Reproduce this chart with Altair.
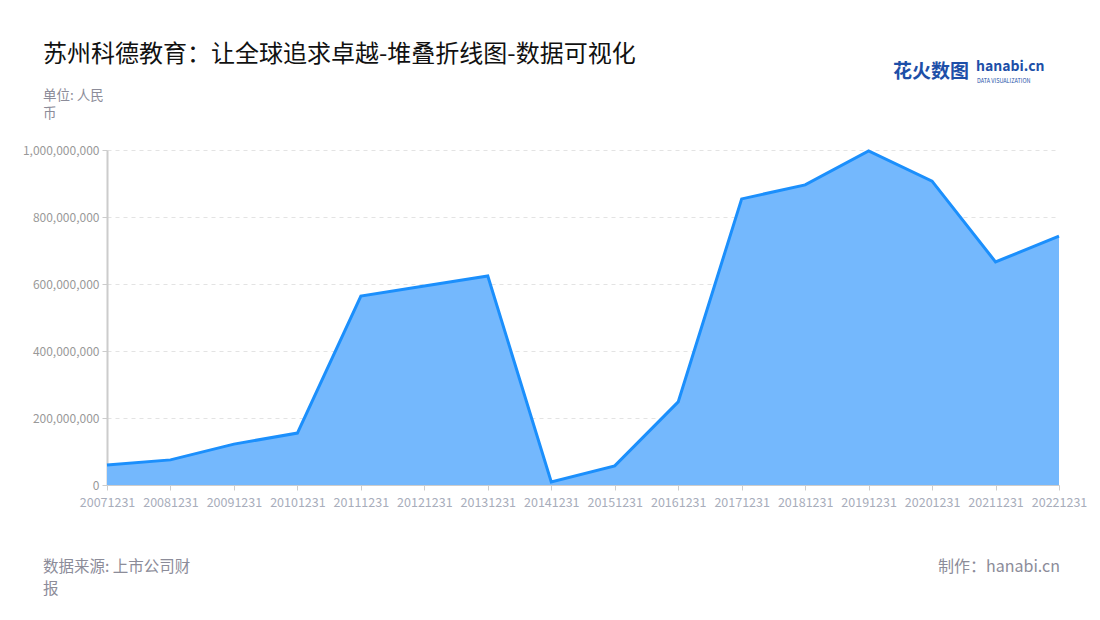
import altair as alt
import pandas as pd

# 报告期与营收（人民币）
periods = [
    "20071231", "20081231", "20091231", "20101231", "20111231", "20121231",
    "20131231", "20141231", "20151231", "20161231", "20171231", "20181231",
    "20191231", "20201231", "20211231", "20221231",
]
revenue = [
    60e6, 75e6, 122e6, 155e6, 564e6, 594e6,
    624e6, 9e6, 57e6, 248e6, 854e6, 896e6,
    997e6, 907e6, 666e6, 743e6,
]

title_text = "苏州科德教育：让全球追求卓越-堆叠折线图-数据可视化"
unit_lines = ["单位: 人民", "币"]
source_lines = ["数据来源: 上市公司财", "报"]
credit_text = "制作：hanabi.cn"

FONT = "Noto Sans CJK SC"
W, H = 952, 335

df = pd.DataFrame({"period": periods, "revenue": revenue})

x_enc = alt.X(
    "period:O",
    title=None,
    sort=periods,
    scale=alt.Scale(type="point", padding=0),
    axis=alt.Axis(
        labelAngle=0, labelColor="#a8adbb", labelFontSize=12.5, labelFont=FONT,
        domainColor="#cccccc", tickColor="#cccccc", tickSize=5, labelPadding=6,
        grid=False,
    ),
)
y_enc = alt.Y(
    "revenue:Q",
    title=None,
    scale=alt.Scale(domain=[0, 1e9]),
    axis=alt.Axis(
        values=[0, 2e8, 4e8, 6e8, 8e8, 1e9], format=",d",
        labelColor="#999999", labelFontSize=12, labelFont=FONT,
        domainColor="#cccccc", domainWidth=2, tickColor="#cccccc", tickSize=5,
        gridColor="#e3e3e3", gridDash=[4, 4], labelPadding=3,
    ),
)

base = alt.Chart(df)
area = base.mark_area(color="#74b8fd", opacity=1).encode(x=x_enc, y=y_enc)
line = base.mark_line(color="#1b8ffc", strokeWidth=3).encode(x=x_enc, y=y_enc)


def text_layer(text, x, y, size, color, align="left", weight="normal"):
    return alt.Chart(pd.DataFrame({"t": [text]})).mark_text(
        align=align, baseline="middle", fontSize=size, color=color,
        font=FONT, fontWeight=weight,
    ).encode(text="t:N", x=alt.value(x), y=alt.value(y))


ox, oy = 107, 150  # plot origin on the page
labels = [
    text_layer(title_text, 43 - ox, 55 - oy, 24, "#111111"),
    text_layer(unit_lines[0], 43 - ox, 96 - oy, 13.5, "#8c8c99"),
    text_layer(unit_lines[1], 43 - ox, 114 - oy, 13.5, "#8c8c99"),
    text_layer(source_lines[0], 43 - ox, 567 - oy, 15.5, "#8c8c99"),
    text_layer(source_lines[1], 43 - ox, 589 - oy, 15.5, "#8c8c99"),
    text_layer(credit_text, 1060 - ox, 567 - oy, 16, "#8c8c99", align="right"),
    text_layer("花火数图", 893 - ox, 72 - oy, 19, "#1d4fa8", weight="bold"),
    text_layer("hanabi.cn", 976 - ox, 67 - oy, 14, "#1d4fa8", weight="bold"),
    text_layer("DATA VISUALIZATION", 977 - ox, 81 - oy, 5.5, "#1d4fa8"),
]

chart = (
    alt.layer(area, line, *labels)
    .properties(
        width=W,
        height=H,
        background="white",
        autosize=alt.AutoSizeParams(type="none"),
        padding={"left": ox - 8, "top": oy - 8, "right": 32, "bottom": 125},
    )
    .configure_view(strokeWidth=0)
)

chart.save("out.html", embed_options={"renderer": "svg", "actions": False})
